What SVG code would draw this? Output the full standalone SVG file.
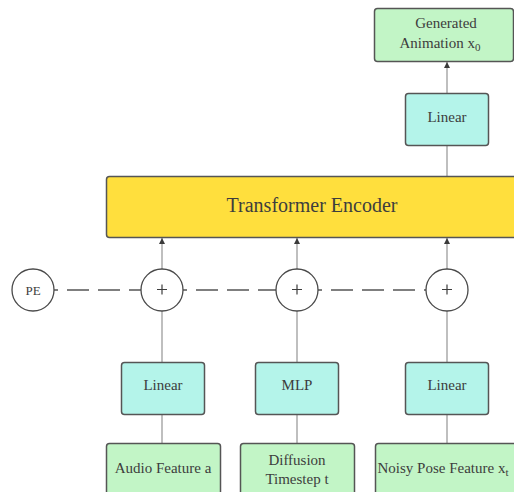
<svg xmlns="http://www.w3.org/2000/svg" width="514" height="492" viewBox="0 0 514 492" font-family="'Liberation Serif', 'Times New Roman', Times, serif">
  <style>
    text { font-family: "Liberation Serif", "Times New Roman", Times, serif; fill: #3d3d3d; text-anchor: middle; }
    .box { stroke: #555; stroke-width: 1.5; }
    .in { fill: #c2f5c6; }
    .lin { fill: #b4f4ea; }
    .enc { fill: #ffdf3d; }
    .circ { fill: #fff; stroke: #4a4a4a; stroke-width: 1.3; }
    .wire { stroke: #aaa; stroke-width: 1.5; fill: none; }
    .dash { stroke: #555; stroke-width: 1.3; fill: none; stroke-dasharray: 22 9; }
    .plus { stroke: #3d3d3d; stroke-width: 1.2; }
    .t14 { font-size: 15px; }
  </style>
  <defs>
    <marker id="arrow" viewBox="0 0 10 10" refX="10" refY="5" markerWidth="6" markerHeight="8" markerUnits="userSpaceOnUse" orient="auto">
      <path d="M0,0 L10,5 L0,10 z" fill="#3a3a3a"/>
    </marker>
  </defs>

  <!-- connectors -->
  <g id="connectors">
    <path class="wire" d="M447,93 V62" marker-end="url(#arrow)"/>
    <path class="wire" d="M447,176 V145"/>
    <path class="wire" d="M162,269 V238" marker-end="url(#arrow)"/>
    <path class="wire" d="M297,269 V238" marker-end="url(#arrow)"/>
    <path class="wire" d="M447,269 V238" marker-end="url(#arrow)"/>
    <path class="wire" d="M162,362 V311"/>
    <path class="wire" d="M297,362 V311"/>
    <path class="wire" d="M447,362 V311"/>
    <path class="wire" d="M162,443 V414"/>
    <path class="wire" d="M297,443 V414"/>
    <path class="wire" d="M447,443 V414"/>
    <!-- positional encoding broadcast -->
    <path class="dash" d="M54,290 H141" stroke-dashoffset="-13"/>
    <path class="dash" d="M183,290 H276" stroke-dashoffset="-13"/>
    <path class="dash" d="M318,290 H426" stroke-dashoffset="-13"/>
  </g>

  <g id="output">
    <rect class="box in" x="374.5" y="8.5" width="139" height="53" rx="3"/>
    <text class="t14" x="446" y="28">Generated</text>
    <text class="t14" x="440" y="48">Animation x<tspan font-size="11" dy="3">0</tspan></text>
  </g>

  <g id="linear-out">
    <rect class="box lin" x="405.5" y="93.5" width="83" height="52" rx="3"/>
    <text class="t14" x="447" y="122">Linear</text>
  </g>

  <g id="encoder">
    <rect class="box enc" x="106.5" y="176.5" width="420" height="61" rx="3"/>
    <text x="312" y="212" font-size="20">Transformer Encoder</text>
  </g>

  <g id="pe">
    <circle class="circ" cx="33" cy="290" r="21"/>
    <text x="33" y="295" font-size="13">PE</text>
  </g>

  <!-- adders: circle with a plus mark -->
  <g id="add-audio">
    <circle class="circ" cx="162" cy="290" r="21"/>
    <path class="plus" d="M157,289.5 H167 M162,284.5 V294.5"/>
  </g>
  <g id="add-time">
    <circle class="circ" cx="297" cy="290" r="21"/>
    <path class="plus" d="M292,289.5 H302 M297,284.5 V294.5"/>
  </g>
  <g id="add-pose">
    <circle class="circ" cx="447" cy="290" r="21"/>
    <path class="plus" d="M442,289.5 H452 M447,284.5 V294.5"/>
  </g>

  <g id="linear-audio">
    <rect class="box lin" x="121.5" y="362.5" width="83" height="52" rx="3"/>
    <text class="t14" x="163" y="390">Linear</text>
  </g>
  <g id="mlp-time">
    <rect class="box lin" x="255.5" y="362.5" width="83" height="52" rx="3"/>
    <text class="t14" x="297" y="390">MLP</text>
  </g>
  <g id="linear-pose">
    <rect class="box lin" x="405.5" y="362.5" width="83" height="52" rx="3"/>
    <text class="t14" x="447" y="390">Linear</text>
  </g>

  <g id="audio">
    <rect class="box in" x="106.5" y="443.5" width="114" height="60" rx="3"/>
    <text class="t14" x="163" y="473">Audio Feature a</text>
  </g>
  <g id="timestep">
    <rect class="box in" x="240.5" y="443.5" width="114" height="60" rx="3"/>
    <text class="t14" x="297" y="465">Diffusion</text>
    <text class="t14" x="297" y="484">Timestep t</text>
  </g>
  <g id="pose">
    <rect class="box in" x="375.5" y="443.5" width="150" height="60" rx="3"/>
    <text class="t14" x="443" y="473">Noisy Pose Feature x<tspan font-size="11" dy="3">t</tspan></text>
  </g>
</svg>
